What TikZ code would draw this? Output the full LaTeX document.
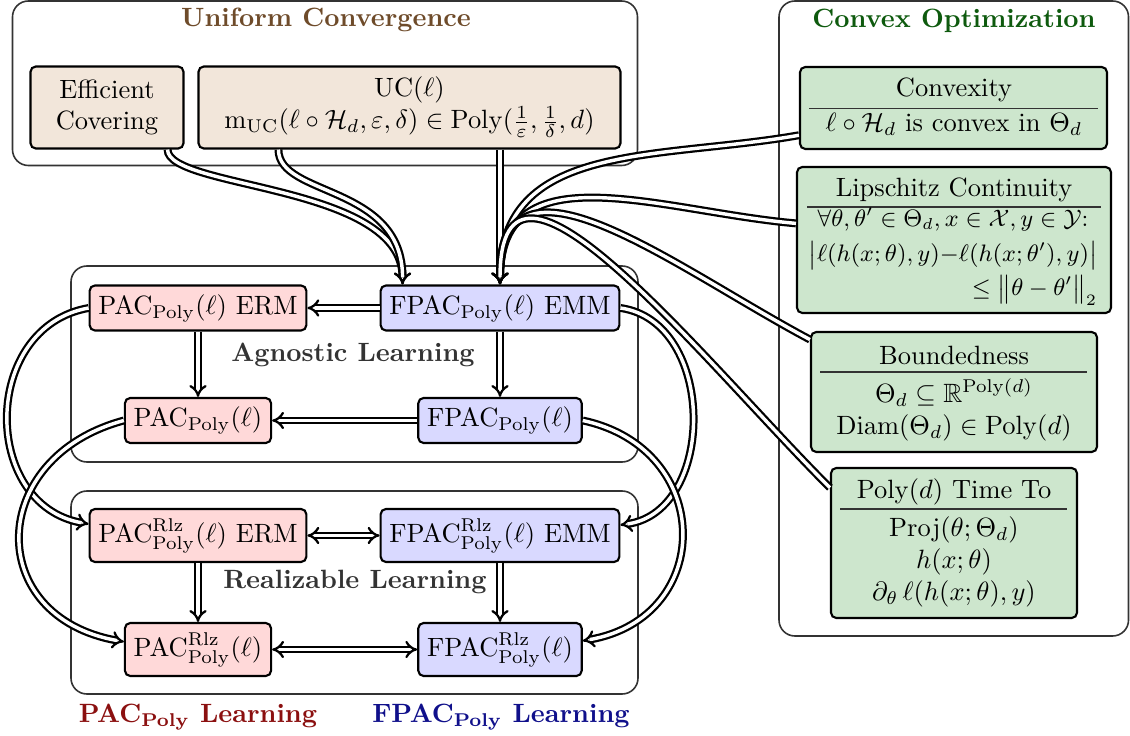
\documentclass[tikz,border=0pt]{standalone}
\usepackage{amsmath,amssymb}
\usetikzlibrary{arrows.meta,calc}
\definecolor{ucfill}{HTML}{F2E6DA}
\definecolor{cofill}{HTML}{CDE6CD}
\definecolor{pacfill}{HTML}{FFD9D9}
\definecolor{fpacfill}{HTML}{D9D9FF}
\definecolor{uctitle}{HTML}{6E4B2A}
\definecolor{cotitle}{HTML}{0E5A0E}
\definecolor{pacred}{HTML}{8B1010}
\definecolor{fpacblue}{HTML}{10108B}
\definecolor{frmgray}{HTML}{333333}
\tikzset{
  frm/.style={draw=frmgray, line width=0.6pt, rounded corners=6pt},
  nbox/.style={draw=black, line width=0.8pt, rounded corners=2pt, inner sep=3.33pt},
  sz/.style 2 args={minimum width={#1*0.378pt}, minimum height={#2*0.378pt}},
  pacbox/.style={nbox, fill=pacfill, minimum height={44*0.378pt}},
  fpacbox/.style={nbox, fill=fpacfill, minimum height={44*0.378pt}},
  pacrbox/.style={nbox, fill=pacfill, minimum height={53*0.378pt}},
  fpacrbox/.style={nbox, fill=fpacfill, minimum height={53*0.378pt}},
  ucbox/.style={nbox, fill=ucfill, align=center, inner sep=0pt},
  cobox/.style={nbox, fill=cofill, inner sep=0pt},
  cotxt/.style={inner sep=0pt, align=center},
  sep/.style={draw=black!80, line width=0.5pt},
  grp/.style={font=\bfseries, text=frmgray},
  imp/.style={double, double distance=1.3pt, line width=0.85pt, -{Implies}},
  biimp/.style={double, double distance=1.3pt, line width=0.85pt, {Implies}-{Implies}},
}
\begin{document}
\begin{tikzpicture}[x=0.378pt, y=0.378pt]
\useasboundingbox (0,0) rectangle (1130,-736);

% containers
\draw[frm] (12.5,-1) rectangle (637.5,-165.5);
\draw[frm] (779,-1) rectangle (1128.5,-636);
\draw[frm] (71,-266) rectangle (638,-462);
\draw[frm] (71,-491) rectangle (638,-694);

% titles
\node[font=\bfseries, text=uctitle] (uct) at (326,-20) {Uniform Convergence};
\node[font=\bfseries, text=cotitle] (cot) at (954,-21) {Convex Optimization};
\node[grp] (agn) at (353,-355) {Agnostic Learning};
\node[grp] (rlz) at (355,-582) {Realizable Learning};
\node[font=\bfseries, text=pacred] (pacl) at (198,-717) {$\mathbf{PAC}_{\mathbf{Poly}}$ Learning};
\node[font=\bfseries, text=fpacblue] (fpacl) at (501,-717) {$\mathbf{FPAC}_{\mathbf{Poly}}$ Learning};

% uniform convergence boxes
\node[ucbox, sz={153}{82}] (eff) at (107,-107.5) {Efficient\\Covering};
\node[ucbox, sz={422}{82}] (uc) at (409.5,-107.5) {UC($\ell$)\\$\mathrm{m}_{\mathrm{UC}}(\ell\circ\mathcal{H}_d,\varepsilon,\delta)\in\mathrm{Poly}(\frac{1}{\varepsilon},\frac{1}{\delta},d)$};

% convex optimization boxes
\node[cobox, sz={307}{82}] (conv) at (953.5,-108) {};
\node[cotxt] (convt) at (954,-90) {Convexity};
\draw[sep] (809,-108.5) -- (1098,-108.5);
\node[cotxt] (convb) at (954,-124) {$\ell\circ\mathcal{H}_d$ is convex in $\Theta_d$};

\node[cobox, sz={314}{146}] (lip) at (954,-240) {};
\node[cotxt] (lipt) at (954,-190) {Lipschitz Continuity};
\draw[sep] (807,-207) -- (1101,-207);
\node[cotxt, font=\small] (lipb) at (953,-256) {\begin{tabular}{@{}c@{}}
$\forall\theta,\theta'\in\Theta_d, x\in\mathcal{X}, y\in\mathcal{Y}$:\\[2pt]
$\big|\ell(h(x;\theta),y){-}\ell(h(x;\theta'),y)\big|$\\[2pt]
\multicolumn{1}{@{}r@{}}{$\le\big\|\theta-\theta'\big\|_2$}
\end{tabular}};

\node[cobox, sz={286}{120}] (bnd) at (954,-392) {};
\node[cotxt] (bndt) at (954,-355) {Boundedness};
\draw[sep] (820,-372) -- (1087,-372);
\node[cotxt] (bndb) at (954,-410) {$\Theta_d\subseteq\mathbb{R}^{\mathrm{Poly}(d)}$\\$\mathrm{Diam}(\Theta_d)\in\mathrm{Poly}(d)$};

\node[cobox, sz={246}{150}] (ptime) at (954,-543) {};
\node[cotxt] (ptimet) at (954,-492) {$\mathrm{Poly}(d)$ Time To};
\draw[sep] (840,-509) -- (1067,-509);
\node[cotxt] (ptimeb) at (954,-562) {$\mathrm{Proj}(\theta;\Theta_d)$\\$h(x;\theta)$\\$\partial_\theta\,\ell(h(x;\theta),y)$};

% learning boxes
\node[pacbox] (pacerm) at (198,-308) {$\mathrm{PAC}_{\mathrm{Poly}}(\ell)$ ERM};
\node[fpacbox] (fpacemm) at (500,-308) {$\mathrm{FPAC}_{\mathrm{Poly}}(\ell)$ EMM};
\node[pacbox] (pac) at (198,-420.5) {$\mathrm{PAC}_{\mathrm{Poly}}(\ell)$};
\node[fpacbox] (fpac) at (500,-420.5) {$\mathrm{FPAC}_{\mathrm{Poly}}(\ell)$};
\node[pacrbox] (pacrerm) at (198,-535.5) {$\mathrm{PAC}^{\mathrm{Rlz}}_{\mathrm{Poly}}(\ell)$ ERM};
\node[fpacrbox] (fpacremm) at (500,-535.5) {$\mathrm{FPAC}^{\mathrm{Rlz}}_{\mathrm{Poly}}(\ell)$ EMM};
\node[pacrbox] (pacr) at (198,-649.5) {$\mathrm{PAC}^{\mathrm{Rlz}}_{\mathrm{Poly}}(\ell)$};
\node[fpacrbox] (fpacr) at (500,-649.5) {$\mathrm{FPAC}^{\mathrm{Rlz}}_{\mathrm{Poly}}(\ell)$};

% connectors into FPAC EMM
\coordinate (fin) at ($(fpacemm.north west)+(23,0)$);
\draw[imp] ($(eff.south east)+(-17,0)$) to[out=-90, in=90, out distance=15pt, in distance=38pt] (fin);
\draw[imp] ($(uc.south west)+(81,0)$) to[out=-90, in=90, out distance=18pt, in distance=38pt] (fin);
\draw[imp] (uc.south -| fpacemm.north) -- (fpacemm.north);
\draw[imp] (conv.190) to[out=190, in=90, looseness=1.1] (fpacemm.north);
\draw[imp] (lip.174) to[out=175, in=90, looseness=1.15] (fpacemm.north);
\draw[imp] (bnd.160) to[out=152, in=90, looseness=1.25] (fpacemm.north);
\draw[imp] (ptime.156) to[out=135, in=90, looseness=1.2] (fpacemm.north);

% inside agnostic
\draw[imp] (fpacemm.west) -- (pacerm.east);
\draw[imp] (fpac.west) -- (pac.east);
\draw[imp] (pacerm.south) -- (pac.north);
\draw[imp] (fpacemm.south) -- (fpac.north);

% inside realizable
\draw[biimp] (pacrerm.east) -- (fpacremm.west);
\draw[biimp] (pacr.east) -- (fpacr.west);
\draw[imp] (pacrerm.south) -- (pacr.north);
\draw[imp] (fpacremm.south) -- (fpacr.north);

% agnostic -> realizable
\draw[imp] (pacerm.west) to[out=190, in=170, looseness=1.3] (pacrerm.174);
\draw[imp] (pac.west) to[out=195, in=170, looseness=1.65] (pacr.174);
\draw[imp] (fpacemm.east) to[out=-8, in=8, looseness=1.15] (fpacremm.5);
\draw[imp] (fpac.east) to[out=-12, in=10, looseness=1.57] (fpacr.6);
\end{tikzpicture}
\end{document}
